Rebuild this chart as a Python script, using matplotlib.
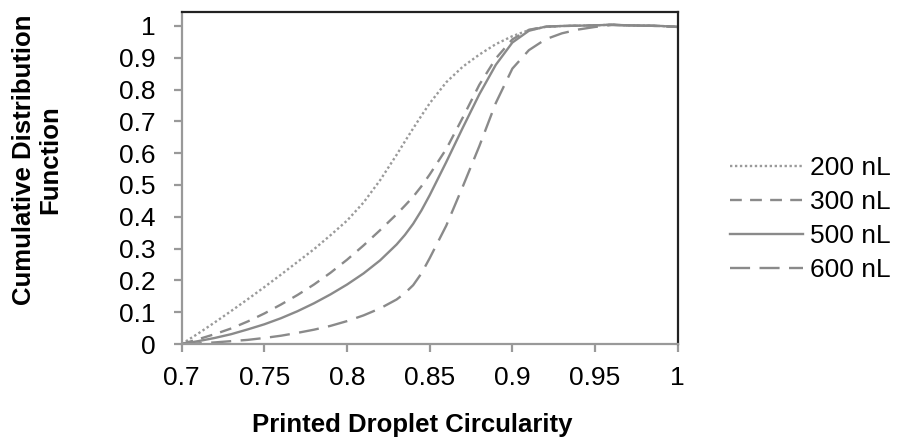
import matplotlib
matplotlib.use("Agg")
import matplotlib.pyplot as plt

plt.rcParams['font.family'] = ['Liberation Sans', 'DejaVu Sans']

# Printed droplet circularity (x) and cumulative distribution for each volume
circularity = [0.70, 0.71, 0.72, 0.73, 0.74, 0.75, 0.76, 0.77, 0.78, 0.79,
               0.80, 0.81, 0.82, 0.83, 0.835, 0.84, 0.845, 0.85, 0.86, 0.87,
               0.88, 0.89, 0.90, 0.91, 0.92, 0.93, 0.94, 0.95, 0.96, 0.97,
               0.98, 0.99, 1.00]

cdf_200 = [0.000, 0.033, 0.068, 0.104, 0.141, 0.179, 0.218, 0.258, 0.298, 0.342,
           0.388, 0.445, 0.515, 0.595, 0.637, 0.678, 0.718, 0.757, 0.823, 0.872,
           0.910, 0.943, 0.968, 0.987, 0.997, 1.000, 1.001, 1.002, 1.004, 1.002,
           1.001, 1.000, 0.997]
cdf_300 = [0.000, 0.015, 0.031, 0.049, 0.071, 0.096, 0.124, 0.154, 0.187, 0.224,
           0.265, 0.310, 0.358, 0.408, 0.435, 0.463, 0.496, 0.533, 0.613, 0.712,
           0.815, 0.898, 0.958, 0.988, 0.998, 1.000, 1.001, 1.002, 1.004, 1.002,
           1.001, 1.000, 0.997]
cdf_500 = [0.000, 0.009, 0.019, 0.031, 0.046, 0.062, 0.081, 0.103, 0.128, 0.156,
           0.187, 0.222, 0.263, 0.313, 0.343, 0.378, 0.420, 0.468, 0.572, 0.680,
           0.785, 0.878, 0.948, 0.985, 0.998, 1.000, 1.001, 1.002, 1.004, 1.002,
           1.001, 1.000, 0.997]
cdf_600 = [0.000, 0.002, 0.005, 0.009, 0.013, 0.019, 0.026, 0.035, 0.045, 0.057,
           0.072, 0.090, 0.112, 0.140, 0.160, 0.185, 0.222, 0.270, 0.372, 0.495,
           0.622, 0.758, 0.866, 0.924, 0.958, 0.977, 0.989, 0.997, 1.003, 1.002,
           1.001, 1.000, 0.997]

series_labels = ['200 nL', '300 nL', '500 nL', '600 nL']
x_ticks = [0.7, 0.75, 0.8, 0.85, 0.9, 0.95, 1.0]
x_tick_labels = ['0.7', '0.75', '0.8', '0.85', '0.9', '0.95', '1']
y_ticks = [0.0, 0.1, 0.2, 0.3, 0.4, 0.5, 0.6, 0.7, 0.8, 0.9, 1.0]
y_tick_labels = ['0', '0.1', '0.2', '0.3', '0.4', '0.5', '0.6', '0.7', '0.8', '0.9', '1']

gray = '#8a8a8a'
styles = [
    dict(linestyle=(0, (1, 1.1)), linewidth=1.7, color='#9a9a9a'),
    dict(linestyle=(0, (5, 3.5)), linewidth=1.7, color=gray),
    dict(linestyle='-', linewidth=1.7, color=gray),
    dict(linestyle=(0, (8.5, 4)), linewidth=1.7, color=gray),
]

fig = plt.figure(figsize=(8.97, 4.38), dpi=100)
ax = fig.add_axes([181.7 / 897, 1 - 344 / 438, 496 / 897, 332 / 438])

for ys, lab, st in zip([cdf_200, cdf_300, cdf_500, cdf_600], series_labels, styles):
    ax.plot(circularity, ys, label=lab, solid_joinstyle='round', **st)

ax.set_xlim(0.7, 1.0)
ax.set_ylim(0, 1.044)
ax.set_xticks(x_ticks)
ax.set_xticklabels(x_tick_labels)
ax.set_yticks(y_ticks)
ax.set_yticklabels(y_tick_labels)

for side in ('left', 'bottom'):
    ax.spines[side].set_color('#999999')
    ax.spines[side].set_linewidth(1.6)
for side in ('top', 'right'):
    ax.spines[side].set_color('#222222')
    ax.spines[side].set_linewidth(1.6)

ax.tick_params(axis='both', direction='out', length=6, width=1.6,
               color='#999999', labelsize=19, labelcolor='black')
ax.tick_params(axis='x', pad=10)
ax.tick_params(axis='y', pad=13)

fig.text(412 / 897, 1 - 425 / 438, 'Printed Droplet Circularity',
         ha='center', va='center', fontsize=18.5, fontweight='bold')
fig.text(37 / 897, 1 - 160 / 438, 'Cumulative Distribution\nFunction',
         ha='center', va='center', rotation=90, fontsize=18.5,
         fontweight='bold', linespacing=1.15)

leg = fig.legend(loc='center left', bbox_to_anchor=(719 / 897, 1 - 219 / 438),
                 frameon=False, fontsize=19, handlelength=2.8,
                 handletextpad=0.25, labelspacing=0.38, borderaxespad=0)

fig.savefig('out.png', dpi=100, facecolor='white')
